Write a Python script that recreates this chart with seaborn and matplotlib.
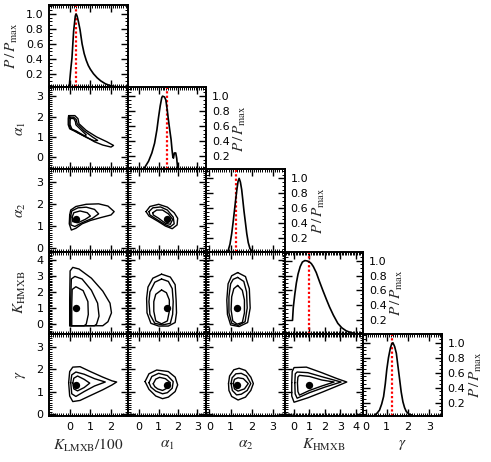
import matplotlib
matplotlib.use("Agg")
import matplotlib.pyplot as plt
from matplotlib.ticker import MultipleLocator, FixedLocator
import seaborn as sns

sns.set_style("ticks")
plt.rcParams["font.family"] = ["DejaVu Sans"]
plt.rcParams["mathtext.fontset"] = "stix"

# ---------------- parameters ----------------
param_labels = [r"$K_{\rm LMXB}/100$", r"$\alpha_1$", r"$\alpha_2$", r"$K_{\rm HMXB}$", r"$\gamma$"]
param_limits = [(-1.0, 2.8), (-0.6, 3.45), (-0.15, 3.55), (-0.6, 4.5), (-0.1, 3.6)]
param_ticks = [[0, 1, 2], [0, 1, 2, 3], [0, 1, 2, 3], [0, 1, 2, 3, 4], [0, 1, 2, 3]]
best_fit = [0.30, 1.45, 1.26, 1.00, 1.24]
dot_pos = [0.30, 1.45, 1.30, 1.00, 1.30]
p_label = r"$P\,/\,P_{\rm max}$"
p_ticks = [0.2, 0.4, 0.6, 0.8, 1.0]
p_limits = (0.02, 1.12)

# ---------------- 1D marginals (x, P/Pmax) ----------------
kl_x = [-0.02, 0.0, 0.06, 0.11, 0.19, 0.27, 0.31, 0.36, 0.42, 0.5, 0.6, 0.7, 0.8, 0.9, 1.0,
        1.15, 1.33, 1.5, 1.73, 1.95, 2.15, 2.4, 2.7]
kl_p = [0.02, 0.1, 0.28, 0.41, 0.77, 0.97, 1.0, 0.97, 0.9, 0.79, 0.6, 0.47, 0.38, 0.31, 0.26,
        0.2, 0.145, 0.105, 0.065, 0.042, 0.03, 0.022, 0.02]

a1_x = [0.22, 0.48, 0.65, 0.79, 0.91, 0.99, 1.08, 1.16, 1.2, 1.3, 1.37, 1.44, 1.5, 1.57,
        1.64, 1.69, 1.73, 1.76, 1.81, 1.88, 1.93, 1.98, 2.03]
a1_p = [0.02, 0.13, 0.24, 0.37, 0.55, 0.71, 0.87, 0.98, 1.0, 0.99, 0.95, 0.82, 0.69, 0.55,
        0.42, 0.28, 0.19, 0.17, 0.24, 0.24, 0.17, 0.03, 0.02]

a2_x = [0.85, 0.89, 0.97, 1.05, 1.12, 1.18, 1.24, 1.29, 1.35, 1.4, 1.46, 1.52, 1.57, 1.63,
        1.7, 1.76, 1.83, 1.91, 2.0, 2.1]
a2_p = [0.02, 0.04, 0.12, 0.26, 0.42, 0.57, 0.72, 0.84, 0.96, 1.0, 0.95, 0.85, 0.72, 0.56,
        0.4, 0.26, 0.14, 0.06, 0.03, 0.02]

kh_x = [-0.1, -0.05, 0.05, 0.15, 0.26, 0.4, 0.54, 0.7, 0.85, 1.0, 1.12, 1.25, 1.44, 1.65,
        1.87, 2.1, 2.3, 2.55, 2.84, 3.1, 3.38, 3.7, 4.0]
kh_p = [0.2, 0.37, 0.55, 0.7, 0.82, 0.92, 0.98, 1.0, 0.995, 0.98, 0.96, 0.92, 0.84, 0.72,
        0.6, 0.48, 0.38, 0.27, 0.16, 0.1, 0.06, 0.035, 0.02]

g_x = [0.42, 0.55, 0.66, 0.76, 0.85, 0.93, 1.0, 1.08, 1.17, 1.24, 1.29, 1.37, 1.45, 1.53,
       1.61, 1.68, 1.76, 1.84, 1.92, 2.05, 2.2]
g_p = [0.03, 0.06, 0.1, 0.18, 0.28, 0.45, 0.64, 0.8, 0.93, 0.99, 1.0, 0.95, 0.86, 0.68,
       0.5, 0.34, 0.21, 0.13, 0.08, 0.045, 0.03]

# ---------------- 2D credible contours (outer, middle, inner) ----------------
c_kl_a1 = [
    [(-0.05, 2.05), (0.25, 2.05), (0.4, 1.9), (0.45, 1.65), (0.8, 1.32), (1.3, 1.0), (1.8, 0.76),
     (2.12, 0.58), (2.0, 0.5), (1.6, 0.6), (1.2, 0.76), (0.7, 1.06), (0.3, 1.3), (0.0, 1.4),
     (-0.07, 1.6), (-0.07, 1.9)],
    [(0.0, 1.98), (0.2, 1.97), (0.32, 1.85), (0.36, 1.65), (0.7, 1.3), (1.1, 1.0), (1.35, 0.83),
     (1.2, 0.8), (0.8, 0.98), (0.4, 1.2), (0.05, 1.38), (-0.03, 1.6), (-0.03, 1.85)],
    [(0.05, 1.92), (0.2, 1.9), (0.28, 1.75), (0.3, 1.6), (0.55, 1.35), (0.8, 1.1), (0.7, 1.05),
     (0.4, 1.2), (0.1, 1.4), (0.02, 1.6), (0.02, 1.8)],
]
c_kl_a2 = [
    [(0.0, 1.5), (0.05, 1.72), (0.3, 1.88), (0.8, 1.98), (1.4, 2.0), (1.85, 1.9), (2.15, 1.65),
     (2.0, 1.5), (1.5, 1.38), (1.0, 1.25), (0.6, 1.1), (0.3, 0.9), (0.08, 0.82), (-0.02, 1.1)],
    [(0.05, 1.45), (0.1, 1.68), (0.4, 1.82), (0.8, 1.85), (1.2, 1.75), (1.4, 1.55), (1.1, 1.35),
     (0.6, 1.15), (0.25, 0.98), (0.06, 1.05)],
    [(0.12, 1.4), (0.2, 1.6), (0.5, 1.68), (0.85, 1.6), (1.0, 1.45), (0.75, 1.3), (0.4, 1.15),
     (0.15, 1.2)],
]
c_a1_a2 = [
    [(0.35, 1.65), (0.55, 1.88), (1.0, 1.98), (1.45, 1.85), (1.8, 1.6), (1.98, 1.35), (1.95, 1.05),
     (1.7, 0.88), (1.35, 1.0), (0.95, 1.22), (0.5, 1.45)],
    [(0.5, 1.65), (0.7, 1.82), (1.1, 1.86), (1.45, 1.72), (1.75, 1.4), (1.8, 1.1), (1.6, 0.97),
     (1.3, 1.08), (0.9, 1.3), (0.55, 1.5)],
    [(0.7, 1.6), (0.9, 1.72), (1.2, 1.72), (1.5, 1.55), (1.72, 1.3), (1.6, 1.08), (1.35, 1.12),
     (1.0, 1.35), (0.72, 1.5)],
]
c_kl_kh = [
    [(0.0, -0.1), (0.0, 1.5), (0.02, 3.3), (0.15, 3.52), (0.45, 3.42), (1.05, 2.85), (1.6, 2.05),
     (1.95, 1.3), (2.02, 0.7), (1.85, 0.15), (1.6, -0.1)],
    [(0.05, -0.1), (0.05, 1.5), (0.08, 2.8), (0.25, 2.96), (0.6, 2.8), (1.05, 2.1), (1.35, 1.3),
     (1.42, 0.5), (1.3, 0.0), (1.2, -0.1)],
    [(0.1, -0.1), (0.1, 1.2), (0.12, 2.15), (0.3, 2.32), (0.65, 2.08), (0.88, 1.4), (0.9, 0.6),
     (0.8, 0.0), (0.7, -0.1)],
]
c_a1_kh = [
    [(1.15, 3.1), (1.6, 2.92), (1.85, 2.45), (1.9, 1.5), (1.92, 0.7), (1.85, 0.1), (1.5, -0.12),
     (1.0, -0.12), (0.6, 0.05), (0.4, 0.7), (0.38, 1.6), (0.45, 2.3), (0.7, 2.85)],
    [(1.15, 2.8), (1.5, 2.65), (1.7, 2.2), (1.75, 1.4), (1.72, 0.6), (1.6, 0.05), (1.2, -0.05),
     (0.8, 0.05), (0.55, 0.6), (0.5, 1.4), (0.55, 2.0), (0.8, 2.6)],
    [(1.15, 2.12), (1.4, 1.95), (1.55, 1.5), (1.55, 0.8), (1.45, 0.2), (1.15, 0.02), (0.85, 0.2),
     (0.75, 0.8), (0.75, 1.4), (0.85, 1.85)],
]
c_a2_kh = [
    [(1.33, 3.2), (1.7, 2.95), (1.88, 2.2), (1.92, 1.0), (1.8, 0.1), (1.4, -0.15), (1.0, -0.05),
     (0.85, 0.6), (0.82, 1.5), (0.88, 2.5), (1.05, 3.0)],
    [(1.33, 2.9), (1.62, 2.65), (1.75, 2.0), (1.78, 1.0), (1.68, 0.15), (1.35, -0.08), (1.05, 0.05),
     (0.92, 0.7), (0.92, 1.7), (1.0, 2.5), (1.12, 2.78)],
    [(1.33, 2.4), (1.55, 2.1), (1.65, 1.5), (1.65, 0.7), (1.55, 0.1), (1.3, 0.0), (1.1, 0.2),
     (1.02, 0.9), (1.05, 1.7), (1.15, 2.2)],
]
c_kl_g = [
    [(-0.05, 1.4), (0.0, 1.9), (0.15, 2.1), (0.5, 2.12), (1.0, 1.9), (1.6, 1.65), (2.05, 1.48),
     (2.27, 1.43), (2.05, 1.3), (1.6, 1.08), (1.0, 0.82), (0.5, 0.6), (0.15, 0.55), (0.0, 0.8)],
    [(0.05, 1.4), (0.1, 1.75), (0.3, 1.88), (0.7, 1.78), (1.2, 1.58), (1.72, 1.43), (1.2, 1.25),
     (0.7, 1.0), (0.3, 0.78), (0.1, 0.9)],
    [(0.15, 1.38), (0.2, 1.6), (0.38, 1.7), (0.7, 1.55), (0.97, 1.38), (0.7, 1.18), (0.38, 1.03),
     (0.2, 1.12)],
]
c_a1_g = [
    [(0.3, 1.45), (0.5, 1.8), (0.9, 1.97), (1.5, 1.9), (1.85, 1.65), (1.98, 1.3), (1.85, 1.0),
     (1.5, 0.75), (1.2, 0.68), (0.85, 0.8), (0.5, 1.1)],
    [(0.5, 1.4), (0.65, 1.68), (1.0, 1.82), (1.45, 1.72), (1.75, 1.45), (1.7, 1.15), (1.45, 0.95),
     (1.2, 0.9), (0.85, 1.02), (0.6, 1.2)],
    [(0.72, 1.35), (0.85, 1.56), (1.05, 1.64), (1.35, 1.58), (1.6, 1.4), (1.5, 1.18), (1.2, 1.05),
     (0.95, 1.12), (0.8, 1.22)],
]
c_a2_g = [
    [(0.9, 1.36), (0.95, 1.7), (1.15, 1.98), (1.4, 2.05), (1.7, 1.95), (1.95, 1.65), (2.07, 1.36),
     (1.95, 1.05), (1.7, 0.75), (1.35, 0.62), (1.05, 0.78), (0.92, 1.05)],
    [(1.02, 1.36), (1.07, 1.62), (1.25, 1.8), (1.5, 1.82), (1.75, 1.7), (1.95, 1.36), (1.78, 1.05),
     (1.5, 0.88), (1.28, 0.85), (1.08, 1.05)],
    [(1.12, 1.36), (1.18, 1.55), (1.35, 1.62), (1.6, 1.58), (1.83, 1.36), (1.65, 1.12), (1.35, 1.02),
     (1.18, 1.12)],
]
c_kh_g = [
    [(-0.15, 1.4), (-0.12, 1.9), (0.0, 2.08), (0.8, 2.1), (1.8, 1.85), (2.8, 1.58), (3.42, 1.43),
     (2.8, 1.25), (1.85, 0.98), (0.9, 0.72), (0.0, 0.52), (-0.15, 0.8)],
    [(0.05, 1.4), (0.08, 1.8), (0.2, 1.88), (0.9, 1.85), (1.9, 1.65), (3.05, 1.43), (2.0, 1.2),
     (1.0, 0.95), (0.2, 0.7), (0.07, 0.9)],
    [(0.22, 1.4), (0.25, 1.65), (0.35, 1.73), (1.0, 1.68), (1.8, 1.52), (2.6, 1.43), (1.8, 1.25),
     (1.0, 1.05), (0.35, 0.84), (0.25, 1.0)],
]

marginals = [(kl_x, kl_p), (a1_x, a1_p), (a2_x, a2_p), (kh_x, kh_p), (g_x, g_p)]
contours = {(0, 1): c_kl_a1, (0, 2): c_kl_a2, (1, 2): c_a1_a2,
            (0, 3): c_kl_kh, (1, 3): c_a1_kh, (2, 3): c_a2_kh,
            (0, 4): c_kl_g, (1, 4): c_a1_g, (2, 4): c_a2_g, (3, 4): c_kh_g}
no_dot = {(0, 1)}

# ---------------- figure ----------------
W, H = 491, 462
fig, axes = plt.subplots(5, 5, figsize=(W / 100, H / 100), dpi=100,
                         gridspec_kw=dict(left=49 / W, right=442 / W, top=1 - 5 / H,
                                          bottom=1 - 416 / H, wspace=0, hspace=0))

n = 5
for r in range(n):
    for c in range(n):
        ax = axes[r, c]
        if c > r:
            ax.set_axis_off()
            continue
        for sp in ax.spines.values():
            sp.set_linewidth(1.4)
            sp.set_color("black")
            sp.set_visible(True)
        ax.tick_params(which="both", direction="in", top=True, right=True,
                       bottom=True, left=True, labelsize=8, pad=4, colors="black")
        ax.tick_params(which="major", length=5, width=1.0)
        ax.tick_params(which="minor", length=2.5, width=0.7)

        ax.set_xlim(*param_limits[c])
        ax.xaxis.set_major_locator(FixedLocator(param_ticks[c]))
        ax.xaxis.set_minor_locator(MultipleLocator(0.1))

        if r == c:
            xs, ps = marginals[c]
            sns.lineplot(x=xs, y=ps, sort=False, estimator=None, color="black",
                         lw=1.2, ax=ax)
            ax.axvline(best_fit[c], color="red", ls=(0, (1, 1)), lw=1.6, zorder=1)
            ax.set_ylim(*p_limits)
            ax.yaxis.set_major_locator(FixedLocator(p_ticks))
            ax.yaxis.set_minor_locator(MultipleLocator(0.05))
            ax.set_yticklabels([f"{t:.1f}" for t in p_ticks])
            if c == 0:
                ax.tick_params(labelleft=True, labelright=False)
                ax.set_ylabel(p_label, fontsize=11)
                ax.yaxis.set_label_coords(-0.37, 0.5)
            else:
                ax.tick_params(labelleft=False, labelright=True)
                ax.yaxis.set_label_position("right")
                ax.set_ylabel(p_label, fontsize=11)
                ax.yaxis.set_label_coords(1.33, 0.5)
        else:
            for poly in contours[(c, r)]:
                xs = [p[0] for p in poly] + [poly[0][0]]
                ys = [p[1] for p in poly] + [poly[0][1]]
                sns.lineplot(x=xs, y=ys, sort=False, estimator=None, color="black",
                             lw=1.0, ax=ax)
            if (c, r) not in no_dot:
                sns.scatterplot(x=[dot_pos[c]], y=[dot_pos[r]], color="black", s=28,
                                edgecolor="black", linewidth=0, ax=ax, zorder=5)
            ax.set_ylim(*param_limits[r])
            ax.yaxis.set_major_locator(FixedLocator(param_ticks[r]))
            ax.yaxis.set_minor_locator(MultipleLocator(0.1))
            if c == 0:
                ax.tick_params(labelleft=True, labelright=False)
                ax.set_ylabel(param_labels[r], fontsize=11)
                ax.yaxis.set_label_coords(-0.27, 0.5)
            else:
                ax.tick_params(labelleft=False, labelright=False)
                ax.set_ylabel("")

        if r == n - 1:
            ax.tick_params(labelbottom=True)
            ax.set_xlabel(param_labels[c], fontsize=11)
            ax.xaxis.set_label_coords(0.5, -0.26)
        else:
            ax.tick_params(labelbottom=False)
            ax.set_xlabel("")

fig.savefig("out.png", dpi=100, facecolor="white")
